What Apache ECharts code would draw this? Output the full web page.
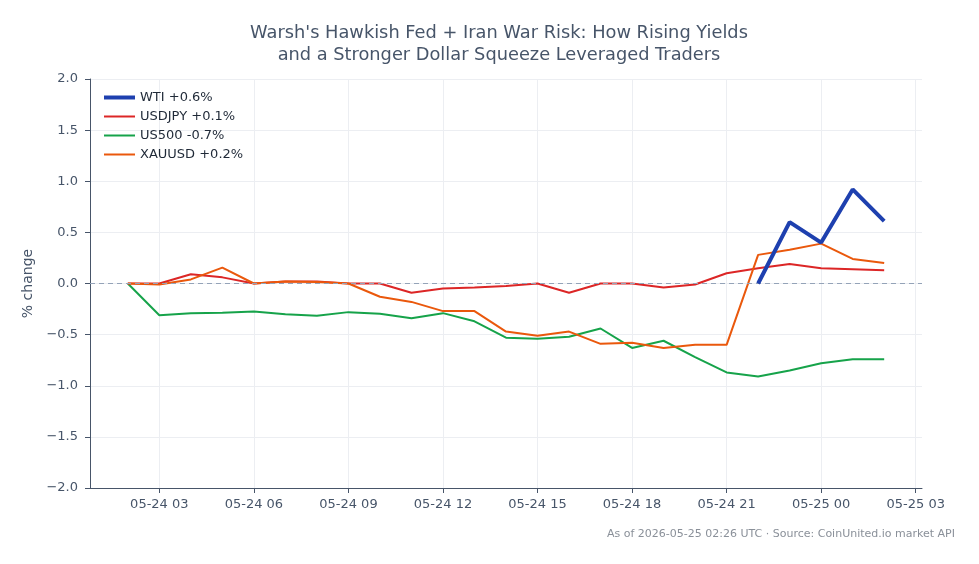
<!DOCTYPE html>
<html>
<head>
<meta charset="utf-8">
<script src="https://cdn.jsdelivr.net/npm/echarts@6/dist/echarts.min.js"></script>
<style>
html,body{margin:0;padding:0;background:#fff;}
#chart{width:979px;height:564px;}
</style>
</head>
<body>
<div id="chart"></div>
<script>
// Hours since 2026-05-24 00:00 UTC
var hours = [2,3,4,5,6,7,8,9,10,11,12,13,14,15,16,17,18,19,20,21,22,23,24,25,26];
var tickHours = [3,6,9,12,15,18,21,24,27];
var tickLabels = ['05-24 03','05-24 06','05-24 09','05-24 12','05-24 15','05-24 18','05-24 21','05-25 00','05-25 03'];

var wtiHours = [22,23,24,25,26];
var wti = [0.0,0.60,0.40,0.92,0.61];
var usdjpy = [0,0,0.09,0.06,0,0.02,0.02,0,0,-0.09,-0.05,-0.04,-0.025,0,-0.09,0,0,-0.04,-0.01,0.10,0.15,0.19,0.15,0.14,0.13];
var us500 = [0,-0.31,-0.29,-0.285,-0.275,-0.30,-0.315,-0.28,-0.295,-0.34,-0.29,-0.37,-0.53,-0.54,-0.52,-0.44,-0.63,-0.56,-0.72,-0.87,-0.91,-0.85,-0.78,-0.74,-0.74];
var xauusd = [0,-0.01,0.04,0.155,0,0.02,0.015,0,-0.13,-0.18,-0.27,-0.27,-0.47,-0.51,-0.47,-0.59,-0.58,-0.63,-0.60,-0.60,0.28,0.33,0.39,0.24,0.20];

var names = ['WTI +0.6%','USDJPY +0.1%','US500 -0.7%','XAUUSD +0.2%'];
var colors = ['#1e40af','#dc2626','#16a34a','#ea580c'];
var widths = [4,2,2,2];

function pairs(xs, ys){ return xs.map(function(x,i){ return [x, ys[i]]; }); }

var FONT = 'DejaVu Sans';
var chart = echarts.init(document.getElementById('chart'), null, {renderer:'canvas'});
chart.setOption({
  animation:false,
  backgroundColor:'#fff',
  textStyle:{fontFamily:FONT},
  title:{
    text:"Warsh's Hawkish Fed + Iran War Risk: How Rising Yields\nand a Stronger Dollar Squeeze Leveraged Traders",
    left:494, top:17, textAlign:'center',
    textStyle:{fontFamily:FONT,fontSize:17.8,fontWeight:'normal',color:'#475569',lineHeight:22}
  },
  graphic:[{
    type:'text', right:24, top:529,
    style:{text:'As of 2026-05-25 02:26 UTC · Source: CoinUnited.io market API', fill:'#8a9099', font:'11px "DejaVu Sans"', textAlign:'right'}
  }],
  legend:{
    orient:'vertical', left:97, top:86, itemGap:6, itemWidth:31, itemHeight:13.5,
    itemStyle:{opacity:0},
    textStyle:{fontFamily:FONT,fontSize:13,color:'#1f2937'},
    data:names.map(function(n,i){ return {name:n, lineStyle:{width:widths[i], color:colors[i]}}; })
  },
  grid:{left:90,right:57,top:79,bottom:76,containLabel:false},
  xAxis:{
    type:'value', min:0.8, max:27.2,
    axisLine:{show:true,onZero:false,lineStyle:{color:'#475569',width:1}},
    axisTick:{show:true,length:5,customValues:tickHours,lineStyle:{color:'#475569'}},
    axisLabel:{customValues:tickHours,color:'#475569',fontSize:13,fontFamily:FONT,margin:10,
      formatter:function(v){ var i = tickHours.indexOf(Math.round(v)); return i>=0?tickLabels[i]:''; }},
    splitLine:{show:true,lineStyle:{color:'#eceef2',width:1}}
  },
  yAxis:{
    type:'value', min:-2, max:2, interval:0.5,
    name:'% change', nameLocation:'middle', nameGap:54, nameRotate:90,
    nameTextStyle:{fontFamily:FONT,fontSize:14,color:'#475569'},
    axisLine:{show:true,lineStyle:{color:'#475569',width:1}},
    axisTick:{show:true,length:5,lineStyle:{color:'#475569'}},
    axisLabel:{color:'#475569',fontSize:13,fontFamily:FONT,margin:12,
      formatter:function(v){ var s=Math.abs(v).toFixed(1); return (v<0?'\u2212':'')+s; }},
    splitLine:{show:true,lineStyle:{color:'#eceef2',width:1}}
  },
  series:[
    {name:names[0],type:'line',data:pairs(wtiHours,wti),showSymbol:false,symbol:'none',z:5,
     lineStyle:{width:widths[0],color:colors[0]},itemStyle:{color:colors[0]}},
    {name:names[1],type:'line',data:pairs(hours,usdjpy),showSymbol:false,symbol:'none',z:4,
     lineStyle:{width:widths[1],color:colors[1]},itemStyle:{color:colors[1]},
     markLine:{silent:true,symbol:'none',label:{show:false},
       lineStyle:{type:[5,4],color:'#94a3b8',width:1},data:[{yAxis:0}]}},
    {name:names[2],type:'line',data:pairs(hours,us500),showSymbol:false,symbol:'none',z:3,
     lineStyle:{width:widths[2],color:colors[2]},itemStyle:{color:colors[2]}},
    {name:names[3],type:'line',data:pairs(hours,xauusd),showSymbol:false,symbol:'none',z:4,
     lineStyle:{width:widths[3],color:colors[3]},itemStyle:{color:colors[3]}}
  ]
});
</script>
</body>
</html>
